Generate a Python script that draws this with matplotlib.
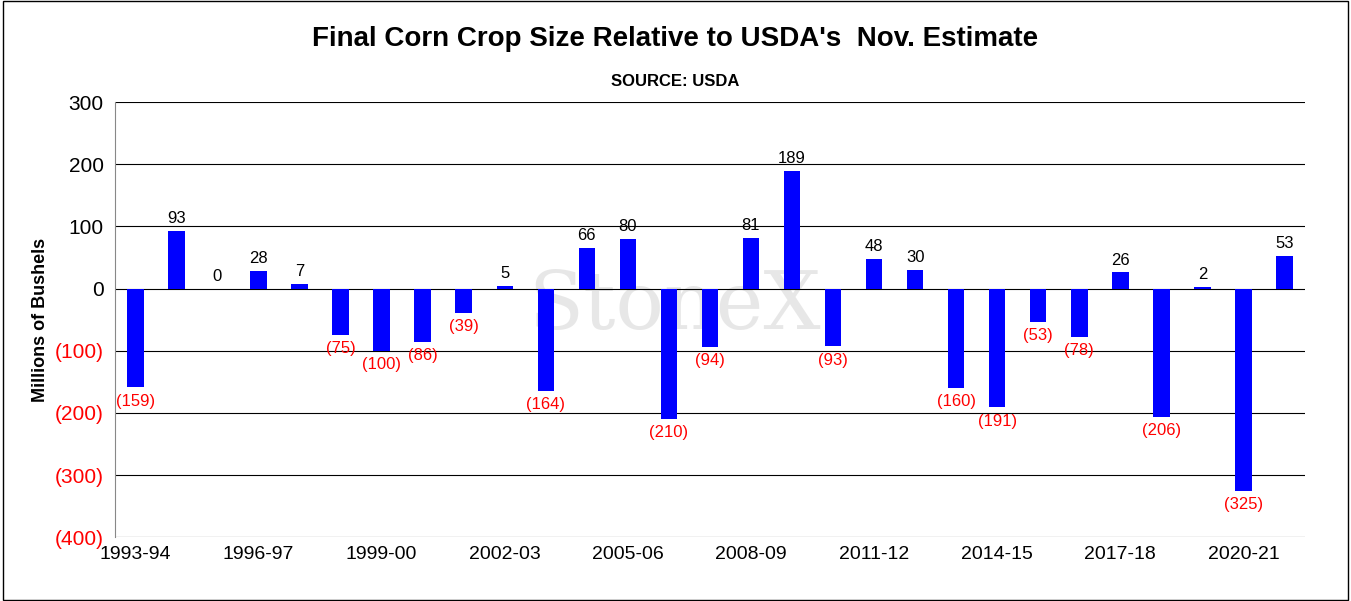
import matplotlib
matplotlib.use("Agg")
import matplotlib.pyplot as plt
from matplotlib.patches import Rectangle

plt.rcParams['font.family'] = ['Liberation Sans', 'DejaVu Sans']

years = [f"{y}-{str(y+1)[-2:]}" for y in range(1993, 2022)]
values = [-159, 93, 0, 28, 7, -75, -100, -86, -39, 5, -164, 66, 80, -210, -94,
          81, 189, -93, 48, 30, -160, -191, -53, -78, 26, -206, 2, -325, 53]
yticks = [300, 200, 100, 0, -100, -200, -300, -400]

fig = plt.figure(figsize=(13.51, 6.01), dpi=100)
fig.patches.append(Rectangle((0.002, 0.002), 0.996, 0.996, transform=fig.transFigure,
                             fill=False, edgecolor="black", linewidth=1))
ax = fig.add_axes([0.085, 0.106, 0.881, 0.724])
x = list(range(len(values)))
ax.bar(x, values, width=0.4, color="#0000FF", zorder=3)
ax.set_xlim(-0.5, len(values) - 0.5)
ax.set_ylim(-400, 300)
ax.set_yticks(yticks)
ax.set_yticklabels([str(v) if v >= 0 else f"({-v})" for v in yticks], fontsize=15)
for lab, v in zip(ax.get_yticklabels(), yticks):
    lab.set_color("black" if v >= 0 else "red")
ax.set_xticks(x[::3])
ax.set_xticklabels(years[::3], fontsize=14)
ax.tick_params(axis="x", length=0, pad=6)
ax.tick_params(axis="y", length=0, pad=8)
ax.grid(axis="y", color="black", linewidth=0.8, zorder=1)
for s in ["top", "right", "bottom"]:
    ax.spines[s].set_visible(False)
ax.spines["left"].set_color("#888888")
ax.set_ylabel("Millions of Bushels", fontsize=13, fontweight="bold")
for xi, v in zip(x, values):
    if v >= 0:
        ax.text(xi, v + 8, str(v), ha="center", va="bottom", fontsize=12)
    else:
        ax.text(xi, v - 10, f"({-v})", ha="center", va="top", fontsize=12, color="red")
ax.text(0.47, 0.53, "StoneX", transform=ax.transAxes, ha="center", va="center",
        fontsize=58, fontfamily="DejaVu Serif", color="#d8d8d8", alpha=0.6, zorder=0)
fig.text(0.5, 0.935, "Final Corn Crop Size Relative to USDA's  Nov. Estimate",
         ha="center", va="center", fontsize=20, fontweight="bold")
fig.text(0.5, 0.865, "SOURCE: USDA", ha="center", va="center", fontsize=12, fontweight="bold")
fig.savefig("out.png", dpi=100)
